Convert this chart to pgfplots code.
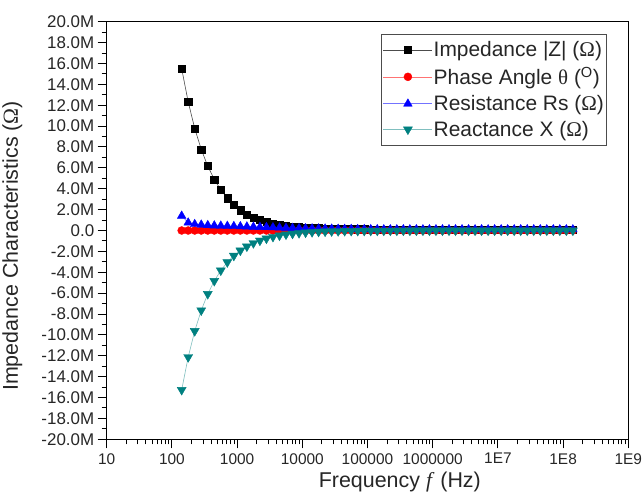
\documentclass[border=0pt]{standalone}
\usepackage{fontspec}
\setmainfont{Liberation Sans}
\newfontfamily\serif{Liberation Serif}
\usepackage{pgfplots}
\usepackage{pgfplotstable}
\pgfplotsset{compat=1.18}
\definecolor{cteal}{RGB}{0,128,128}

\pgfplotstableread{
f Z P R X
1.4125e2 15.50 0 1.40 -15.27
1.7783e2 12.32 0 0.75 -12.13
2.2387e2 9.78 0 0.60 -9.63
2.8184e2 7.77 0 0.55 -7.65
3.5481e2 6.17 0 0.50 -6.08
4.4668e2 4.90 0 0.47 -4.83
5.6234e2 3.89 0 0.45 -3.83
7.0795e2 3.09 0 0.43 -3.04
8.9125e2 2.46 0 0.41 -2.42
1.1220e3 1.95 0 0.39 -1.92
1.4125e3 1.55 0 0.37 -1.53
1.7783e3 1.23 0 0.35 -1.21
2.2387e3 1.02 0 0.33 -0.965
2.8184e3 0.83 0 0.31 -0.77
3.5481e3 0.675 0 0.29 -0.61
4.4668e3 0.55 0 0.27 -0.48
5.6234e3 0.455 0 0.25 -0.38
7.0795e3 0.382 0 0.23 -0.305
8.9125e3 0.323 0 0.21 -0.245
1.1220e4 0.279 0 0.20 -0.195
1.4125e4 0.244 0 0.19 -0.153
1.7783e4 0.217 0 0.18 -0.121
2.2387e4 0.196 0 0.17 -0.097
2.8184e4 0.178 0 0.16 -0.077
3.5481e4 0.162 0 0.15 -0.061
4.4668e4 0.148 0 0.14 -0.048
5.6234e4 0.135 0 0.13 -0.038
7.0795e4 0.124 0 0.12 -0.031
8.9125e4 0.123 0 0.12 -0.025
1.1220e5 0.112 0 0.11 -0.020
1.4125e5 0.111 0 0.11 -0.016
1.7783e5 0.101 0 0.10 -0.012
2.2387e5 0.100 0 0.10 -0.010
2.8184e5 0.100 0 0.10 -0.008
3.5481e5 0.100 0 0.10 -0.006
4.4668e5 0.100 0 0.10 -0.005
5.6234e5 0.100 0 0.10 -0.004
7.0795e5 0.100 0 0.10 -0.003
8.9125e5 0.100 0 0.10 -0.003
1.1220e6 0.100 0 0.10 -0.002
1.4125e6 0.100 0 0.10 -0.002
1.7783e6 0.100 0 0.10 -0.002
2.2387e6 0.100 0 0.10 -0.001
2.8184e6 0.100 0 0.10 -0.001
3.5481e6 0.100 0 0.10 -0.001
4.4668e6 0.100 0 0.10 -0.001
5.6234e6 0.100 0 0.10 -0.001
7.0795e6 0.100 0 0.10 -0.001
8.9125e6 0.100 0 0.10 -0.001
1.1220e7 0.100 0 0.10 -0.001
1.4125e7 0.100 0 0.10 -0.001
1.7783e7 0.100 0 0.10 -0.001
2.2387e7 0.100 0 0.10 -0.001
2.8184e7 0.100 0 0.10 -0.001
3.5481e7 0.100 0 0.10 -0.001
4.4668e7 0.100 0 0.10 -0.001
5.6234e7 0.100 0 0.10 -0.001
7.0795e7 0.100 0 0.10 -0.001
8.9125e7 0.100 0 0.10 -0.001
1.1220e8 0.100 0 0.10 -0.001
1.4125e8 0.100 0 0.10 -0.001
}\datatable

\begin{document}
\begin{tikzpicture}
\begin{axis}[
  name=ax,
  scale only axis,
  width=521.6bp, height=417.6bp,
  xmode=log, xmin=10, xmax=1e9,
  ymin=-20, ymax=20,
  xtick={1e1,1e2,1e3,1e4,1e5,1e6,1e7,1e8,1e9},
  xticklabels={10,100,1000,10000,100000,1000000,1E7,1E8,1E9},
  minor xtick={2e1,3e1,4e1,5e1,6e1,7e1,8e1,9e1,
               2e2,3e2,4e2,5e2,6e2,7e2,8e2,9e2,
               2e3,3e3,4e3,5e3,6e3,7e3,8e3,9e3,
               2e4,3e4,4e4,5e4,6e4,7e4,8e4,9e4,
               2e5,3e5,4e5,5e5,6e5,7e5,8e5,9e5,
               2e6,3e6,4e6,5e6,6e6,7e6,8e6,9e6,
               2e7,3e7,4e7,5e7,6e7,7e7,8e7,9e7,
               2e8,3e8,4e8,5e8,6e8,7e8,8e8,9e8},
  ytick={-20,-18,-16,-14,-12,-10,-8,-6,-4,-2,0,2,4,6,8,10,12,14,16,18,20},
  yticklabels={-20.0M,-18.0M,-16.0M,-14.0M,-12.0M,-10.0M,-8.0M,-6.0M,-4.0M,-2.0M,0.0,2.0M,4.0M,6.0M,8.0M,10.0M,12.0M,14.0M,16.0M,18.0M,20.0M},
  minor ytick={-19,-17,-15,-13,-11,-9,-7,-5,-3,-1,1,3,5,7,9,11,13,15,17,19},
  tick pos=left,
  tick align=outside,
  major tick length=9bp,
  minor tick length=5bp,
  every tick/.style={black, line width=1bp},
  axis line style={line width=1.2bp, black},
  yticklabel style={font=\fontsize{17}{20}\selectfont, text=black!85},
  xticklabel style={font=\fontsize{15.5}{18}\selectfont, text=black!85, yshift=-1.5bp},
  xlabel={Frequency {\serif\itshape f\/} (Hz)},
  ylabel={Impedance Characteristics ({\serif Ω})},
  xlabel style={font=\fontsize{21.5}{24}\selectfont, text=black!85, at={(axis description cs:0.562,0)}, anchor=base, yshift=-48bp},
  ylabel style={font=\fontsize{21.5}{24}\selectfont, text=black!85, at={(axis description cs:-0.1703,0.463)}, anchor=base},
  legend style={at={(axis description cs:0.9597,0.9713)}, anchor=north east,
    draw=black!70, line width=0.8bp, inner xsep=2bp, inner ysep=6.5bp, row sep=7bp,
    nodes={inner sep=1bp, anchor=west}, font=\fontsize{21}{24}\selectfont, text=black!85},
  legend cell align=left,
  legend image code/.code={\draw[#1, mark repeat=2, mark phase=2] plot coordinates {(0bp,0bp) (24.5bp,0bp) (49bp,0bp)};},
]
\addplot[draw=black!70, line width=0.6bp, mark=square*, mark size=3.6bp, mark options={solid, fill=black, draw=black, line width=0.4bp}] table[x=f,y=Z]{\datatable};
\addlegendentry{Impedance |Z| ({\serif Ω})}
\addplot[draw=red!55, line width=0.6bp, mark=*, mark size=4bp, mark options={solid, fill=red, draw=red, line width=0.4bp}] table[x=f,y=P]{\datatable};
\addlegendentry{Phase Angle {\serif θ} (\textsuperscript{O})}
\addplot[draw=blue!55, line width=0.6bp, mark=triangle*, mark size=5bp, mark options={solid, fill=blue, draw=blue, line width=0.4bp}] table[x=f,y=R]{\datatable};
\addlegendentry{Resistance Rs ({\serif Ω})}
\addplot[draw=cteal!50, line width=0.6bp, mark=triangle*, mark size=5.2bp, mark options={solid, rotate=180, fill=cteal, draw=cteal, line width=0.4bp}] table[x=f,y=X]{\datatable};
\addlegendentry{Reactance X ({\serif Ω})}
\end{axis}
\pgfresetboundingbox
\path[use as bounding box] ([xshift=-106.7bp,yshift=-54.7bp]ax.south west) rectangle ([xshift=14.7bp,yshift=21.7bp]ax.north east);
\end{tikzpicture}
\end{document}
